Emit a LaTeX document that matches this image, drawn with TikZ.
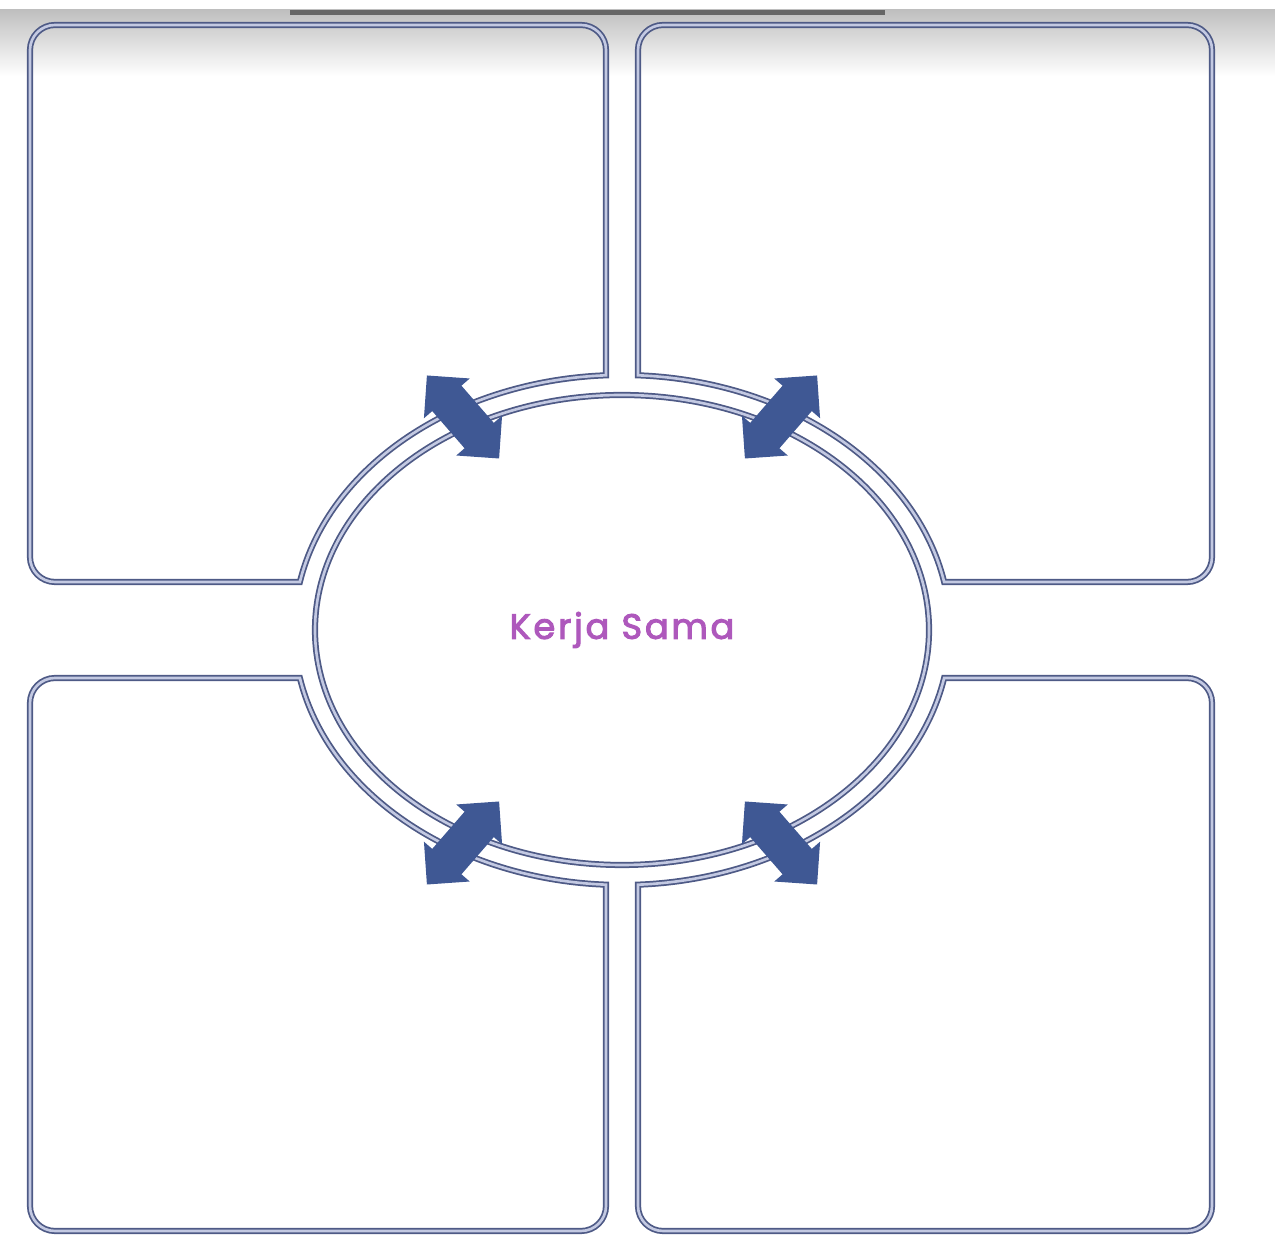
\documentclass[tikz,border=0pt]{standalone}
\usepackage{fontspec}
\newfontfamily\kerjafont{Poppins}[LetterSpace=8, FakeBold=3]
\definecolor{KSnavy}{HTML}{4E5A86}
\definecolor{KSlilac}{HTML}{C3C9E2}
\definecolor{KSblue}{HTML}{3F5894}
\definecolor{KSpink}{HTML}{AE58BC}
\usetikzlibrary{calc, shapes.geometric, shapes.arrows}

\begin{document}
\begin{tikzpicture}[
    boxline/.style={draw=KSnavy, line width=1pt, double=KSlilac, double distance=1.5pt},
    ringarc/.style={x radius=6.56cm, y radius=5.10cm},
    hub/.style={boxline, ellipse, minimum width=12.28cm, minimum height=9.4cm, inner sep=0pt,
      text=KSpink, font=\kerjafont\fontsize{20}{24}\selectfont},
    ringarrow/.style={double arrow, fill=KSblue, draw=none, inner xsep=0pt, inner ysep=0.38cm,
      minimum height=2.2cm, double arrow head extend=0.22cm}
  ]
  \useasboundingbox (0,0) rectangle (25.5,24.72);
  % Screen shadow at the top
  \shade[top color=black!25, bottom color=white] (0,23.2) rectangle (25.5,24.52);
  \fill[black!60] (5.8,24.42) rectangle (17.7,24.52);
  % Centre of the ring and the angles where it meets the box edges
  \coordinate (C) at (12.44,12.12);
  \pgfmathsetmacro{\angH}{asin(0.96/5.10)}
  \pgfmathsetmacro{\angV}{acos(0.32/6.56)}
  % Top left box
  \draw[boxline] ($(C)+(180-\angH:6.56cm and 5.10cm)$) [rounded corners=0.5cm]
    -- (0.6,13.08) -- (0.6,24.22) -- (12.12,24.22) [sharp corners] -- ($(C)+(180-\angV:6.56cm and 5.10cm)$)
    arc[ringarc, start angle=180-\angV, end angle=180-\angH] -- cycle;
  % Top right box
  \draw[boxline] ($(C)+(\angH:6.56cm and 5.10cm)$) [rounded corners=0.5cm]
    -- (24.24,13.08) -- (24.24,24.22) -- (12.76,24.22) [sharp corners] -- ($(C)+(\angV:6.56cm and 5.10cm)$)
    arc[ringarc, start angle=\angV, end angle=\angH] -- cycle;
  % Bottom left box
  \draw[boxline] ($(C)+(180+\angH:6.56cm and 5.10cm)$) [rounded corners=0.5cm]
    -- (0.6,11.16) -- (0.6,0.1) -- (12.12,0.1) [sharp corners] -- ($(C)+(180+\angV:6.56cm and 5.10cm)$)
    arc[ringarc, start angle=180+\angV, end angle=180+\angH] -- cycle;
  % Bottom right box
  \draw[boxline] ($(C)+(-\angH:6.56cm and 5.10cm)$) [rounded corners=0.5cm]
    -- (24.24,11.16) -- (24.24,0.1) -- (12.76,0.1) [sharp corners] -- ($(C)+(-\angV:6.56cm and 5.10cm)$)
    arc[ringarc, start angle=-\angV, end angle=-\angH] -- cycle;
  % Central ellipse
  \node[hub] (hub) at (C) {Kerja Sama};
  % Arrows across the ring
  \node[ringarrow, rotate=-49] (arrowTL) at ($(C)+(-3.18,4.26)$) {};
  \node[ringarrow, rotate=49] (arrowTR) at ($(C)+(3.18,4.26)$) {};
  \node[ringarrow, rotate=49] (arrowBL) at ($(C)+(-3.18,-4.26)$) {};
  \node[ringarrow, rotate=-49] (arrowBR) at ($(C)+(3.18,-4.26)$) {};
\end{tikzpicture}
\end{document}
